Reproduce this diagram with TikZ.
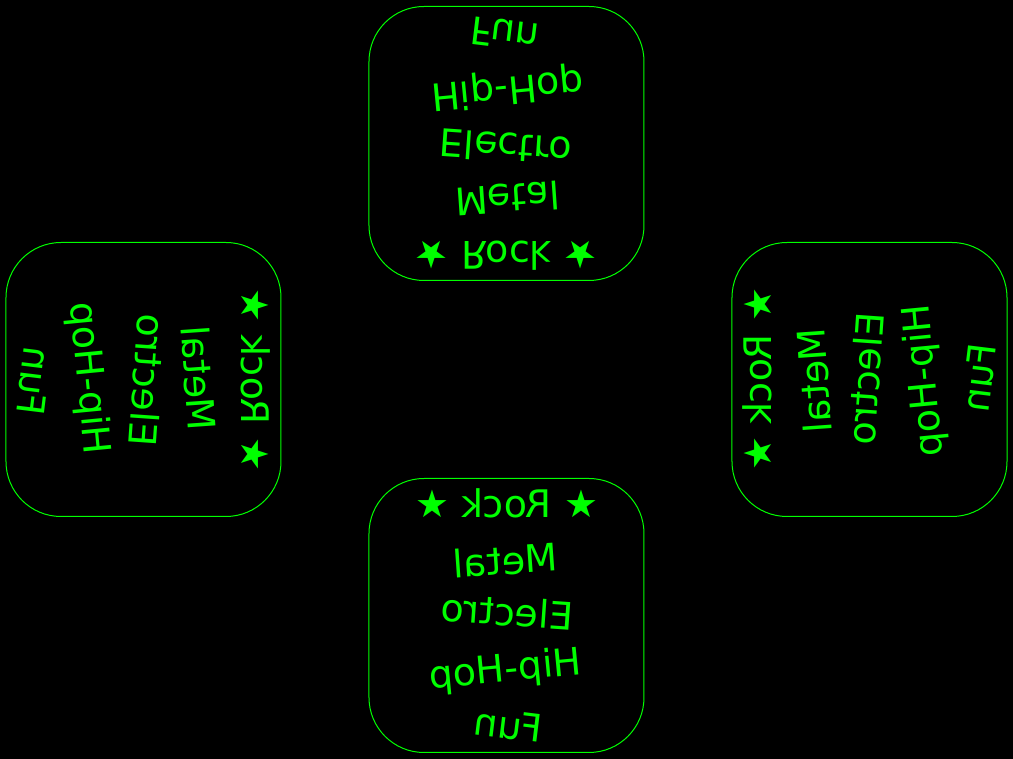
\documentclass[tikz,border=0pt]{standalone}
\usepackage{fontspec}
\newfontfamily\genrefont{DejaVu Sans}
\definecolor{neon}{HTML}{00FF00}

\begin{document}
\begin{tikzpicture}[
  x=1pt, y=1pt,
  card/.style={draw=neon, line width=1pt, rounded corners=55pt,
               minimum width=275pt, minimum height=274pt, inner sep=0pt},
  genre/.style={text=neon, anchor=base, inner sep=0pt, transform shape,
                font=\genrefont\fontsize{38}{40}\selectfont},
  fliptop/.style={shift={(0,236)}, yscale=-1},
  flipbottom/.style={shift={(0,-236)}, xscale=-1},
  flipleft/.style={shift={(-363,0)}, cm={0,1,1,0,(0,0)}},
  flipright/.style={shift={(363,0)}, cm={0,-1,-1,0,(0,0)}}
]
\fill[black] (-506.5,-379.5) rectangle (506.5,379.5);
\useasboundingbox (-506.5,-379.5) rectangle (506.5,379.5);

\foreach \side in {top,bottom,left,right} {
  \begin{scope}[flip\side]
    \node[card] (\side-card) at (0,0) {};
    \node[genre]            (\side-rock)    at (0,98)   {★ Rock ★};
    \node[genre, rotate=-4] (\side-metal)   at (0,41)   {Metal};
    \node[genre, rotate=4]  (\side-electro) at (0,-10)  {Electro};
    \node[genre, rotate=-5.5] (\side-hiphop) at (0,-66) {Hip-Hop};
    \node[genre, rotate=7]  (\side-fun)     at (0,-123) {Fun};
  \end{scope}
}
\end{tikzpicture}
\end{document}
